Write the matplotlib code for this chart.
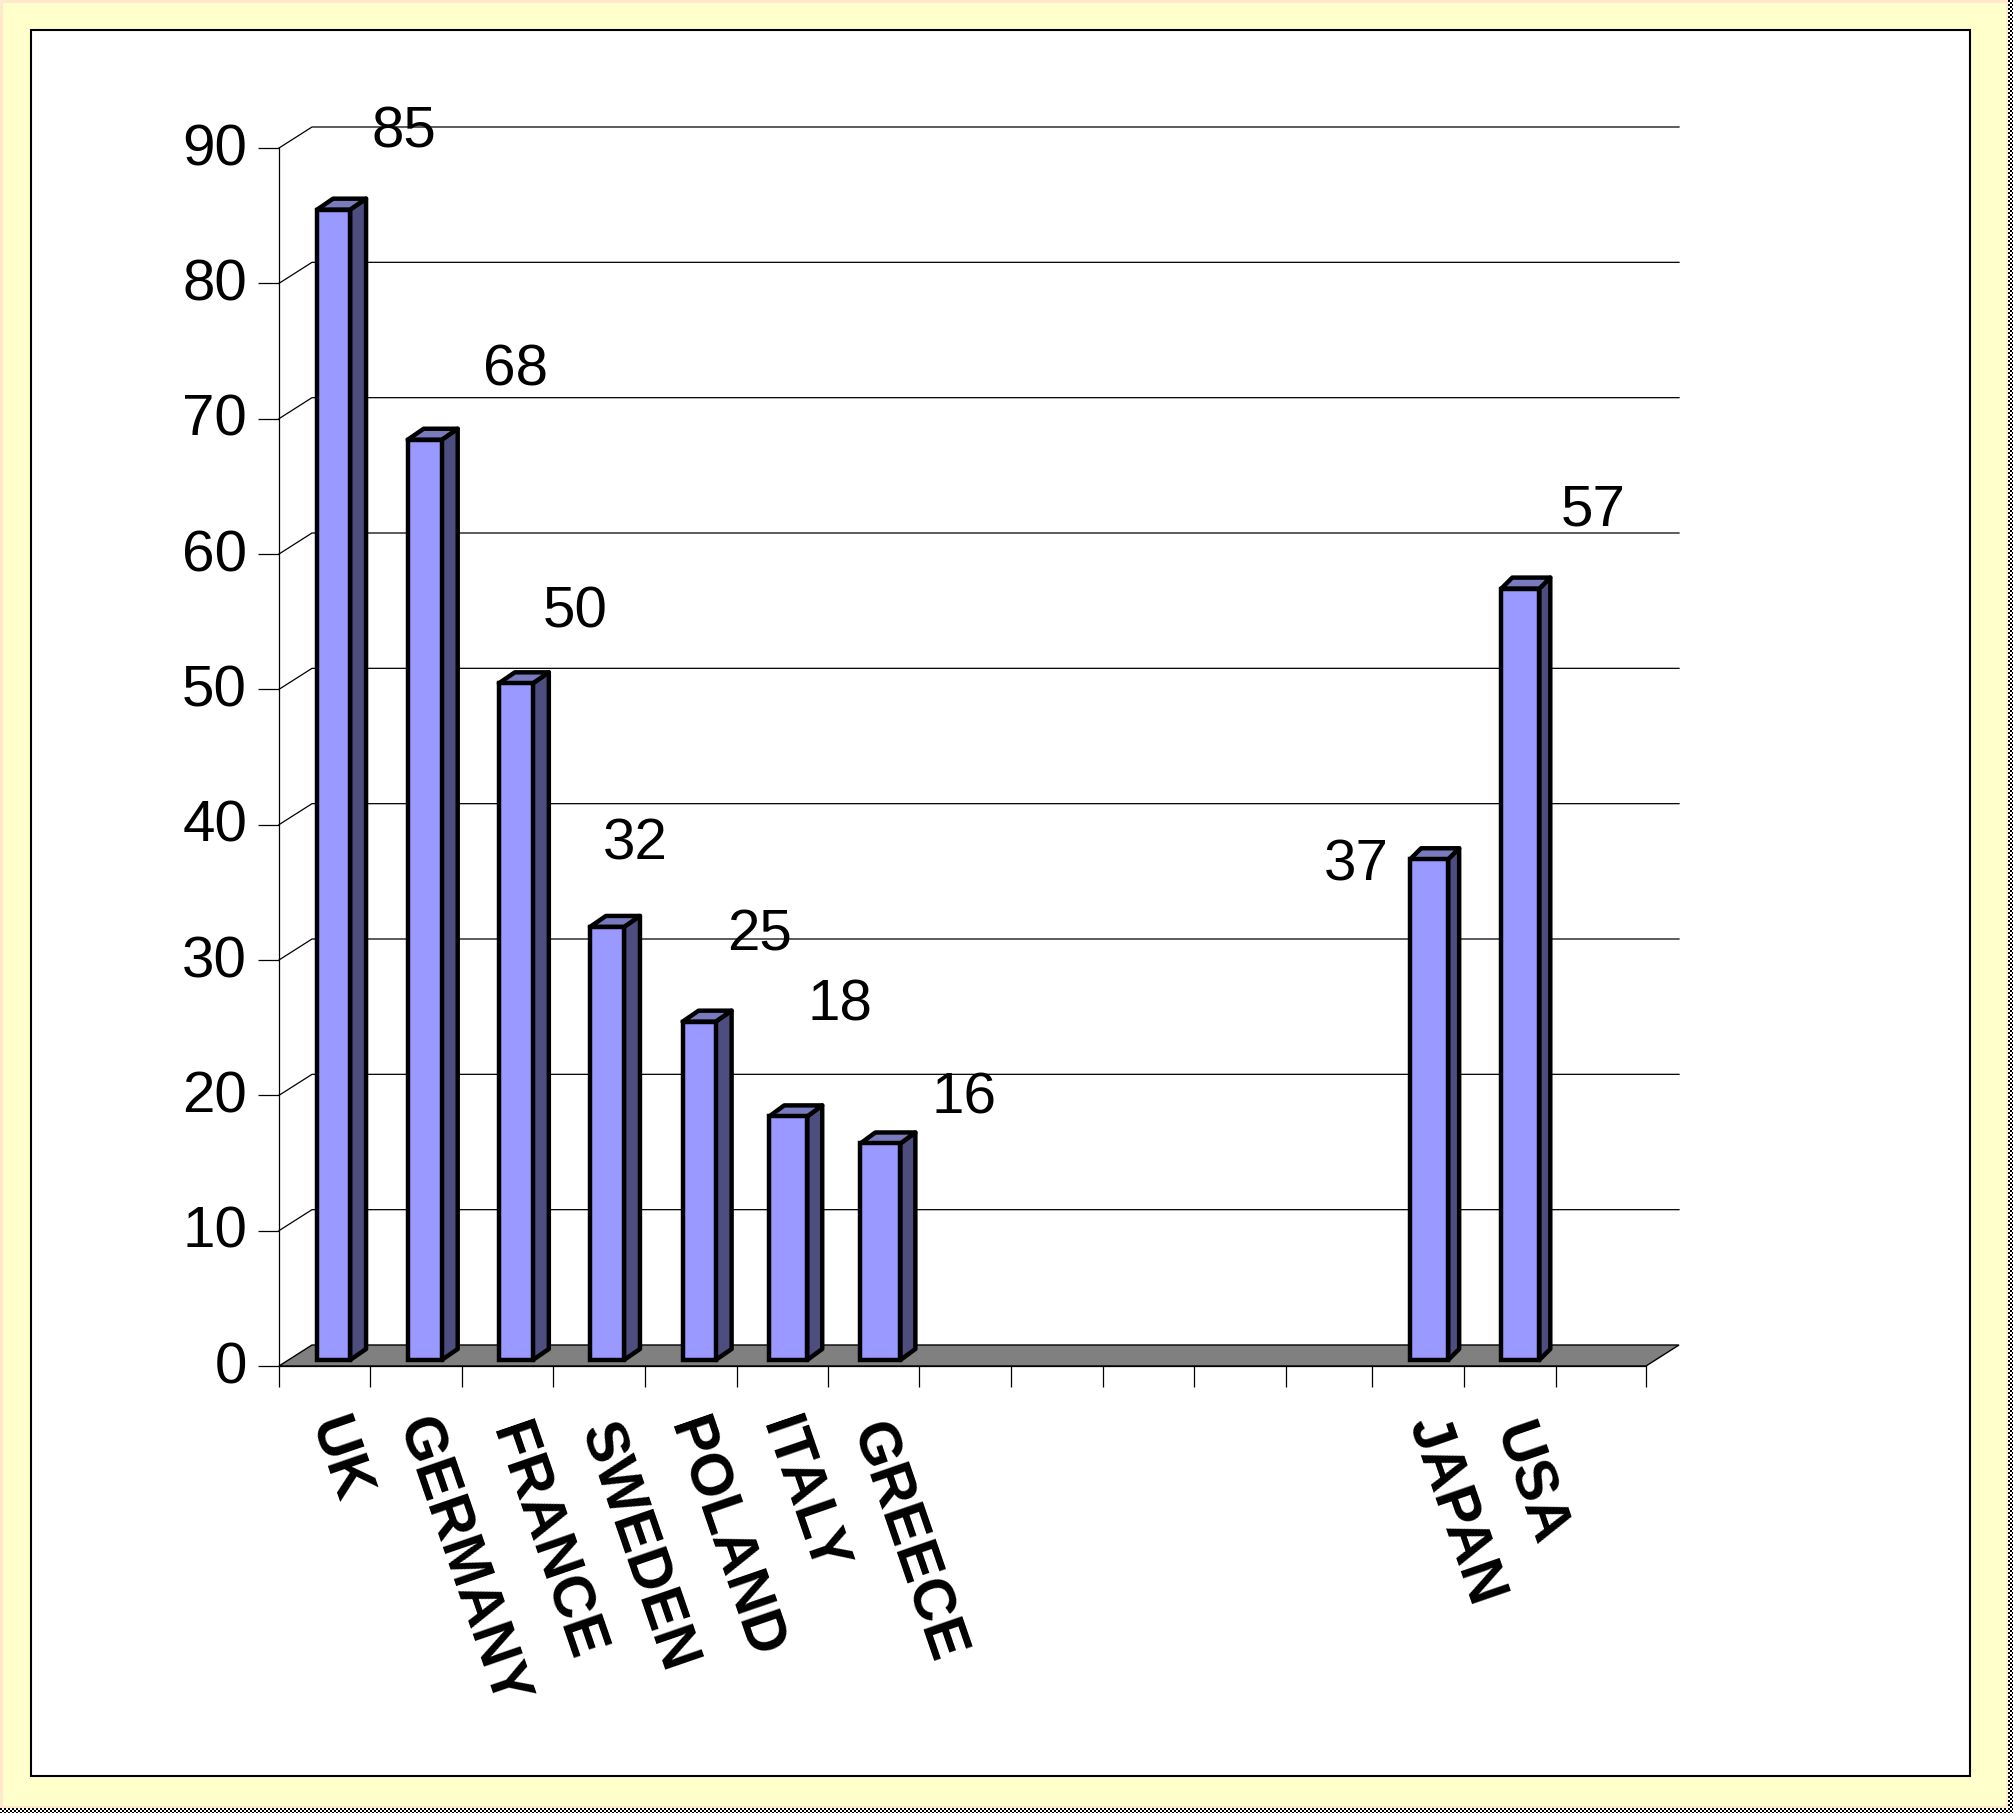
#!/usr/bin/env python3
"""Column chart with a fake 3D look, drawn on a framed slide background."""
import numpy as np
import matplotlib
matplotlib.use('Agg')
import matplotlib.pyplot as plt
from matplotlib.patches import Polygon, Rectangle
from matplotlib.transforms import ScaledTranslation

# data: 15 category slots, some of them empty
categories = ['UK', 'GERMANY', 'FRANCE', 'SWEDEN', 'POLAND', 'ITALY', 'GREECE',
              '', '', '', '', '', 'JAPAN', 'USA', '']
values = [85, 68, 50, 32, 25, 18, 16, None, None, None, None, None, 37, 57, None]
y_ticks = [0, 10, 20, 30, 40, 50, 60, 70, 80, 90]

# tweaks in pixels, the source chart is not quite regular
bar_widths = [33, 34, 34, 34, 33, 38, 40, 0, 0, 0, 0, 0, 38, 38, 0]
bar_shifts = [9, 9, 9, 9, 10, 8, 9, 0, 0, 0, 0, 0, 11, 11, 0]
bar_depths = [16, 16, 16, 16, 16, 15, 15, 0, 0, 0, 0, 0, 11, 11, 0]
label_offsets = [(70, -77), (91, -69), (59, -71), (28, -82), (60, -86), (52, -111),
                 (84, -45), None, None, None, None, None, (-73, 6), (73, -78), None]
name_nudges = [(-5, 0), (-9, 0), (-7, 6), (-9, 5), (-11, 1), (-10, 0), (-11, 5),
               None, None, None, None, None, (0, -2), (-6, 6), None]
x_tick_px = [279, 370, 462, 553, 645, 737, 828, 919, 1011, 1103, 1194, 1286, 1372, 1464, 1556, 1646]

W, H = 2013, 1813
LEFT, RIGHT, TOP, BOTTOM = 279, 1646, 148, 1366
FACE, SIDE, ROOF = '#9999FF', '#4D4D80', '#7A7ABF'
FONT = 'Liberation Sans'

plt.rcParams['font.family'] = [FONT, 'DejaVu Sans']
fig = plt.figure(figsize=(W / 100, H / 100), dpi=100)

# slide background: pale edge, dithered shadow on right and bottom
bg = np.ones((H, W, 3))
bg[:, :] = matplotlib.colors.to_rgb('#FFE8CC')
bg[3:1806, 3:2006] = matplotlib.colors.to_rgb('#FFFFCC')
yy, xx = np.indices((H, W))
shadow = (xx >= 2008) | (yy >= 1808)
bg[shadow] = (1.0, 1.0, 1.0)
bg[shadow & ((xx // 2 + yy // 2) % 2 == 0)] = (0.0, 0.0, 0.0)
fig.figimage(bg, resize=False, zorder=0)
fig.add_artist(Rectangle((31 / W, 1 - 1776 / H), 1939 / W, 1746 / H, transform=fig.transFigure,
                         fc='white', ec='black', lw=1.5, zorder=1))

ax = fig.add_axes([LEFT / W, 1 - BOTTOM / H, (RIGHT - LEFT) / W, (BOTTOM - TOP) / H], zorder=2)
ax.patch.set_visible(False)
n = len(categories)
ax.set_xlim(0, n)
ax.set_ylim(0, 90)
px_x = n / (RIGHT - LEFT)
px_y = 90 / (BOTTOM - TOP)

# back wall and floor
wall_dx, wall_dy = 33 * px_x, 21 * px_y
ax.add_patch(Polygon([(0, 0), (wall_dx, wall_dy), (n + wall_dx, wall_dy), (n, 0)],
                     fc='#808080', ec='black', lw=1.0, clip_on=False, zorder=1))
for t in y_ticks[1:]:
    ax.plot([0, wall_dx, n + wall_dx], [t, t + wall_dy, t + wall_dy], color='black', lw=0.9,
            clip_on=False, zorder=1.5)

# bars
base = 6 * px_y
for i, v in enumerate(values):
    if v is None:
        continue
    xc = i + 0.5 + bar_shifts[i] * px_x
    w = bar_widths[i] * px_x
    depth_x, depth_y = bar_depths[i] * px_x, 11 * px_y
    x0, x1 = xc - w / 2, xc + w / 2
    y0, y1 = base, base + v
    side = [(x1, y0), (x1 + depth_x, y0 + depth_y), (x1 + depth_x, y1 + depth_y), (x1, y1)]
    roof = [(x0, y1), (x0 + depth_x, y1 + depth_y), (x1 + depth_x, y1 + depth_y), (x1, y1)]
    ax.add_patch(Polygon(side, fc=SIDE, ec='black', lw=3.2, joinstyle='round', clip_on=False, zorder=3))
    ax.add_patch(Polygon(roof, fc=ROOF, ec='black', lw=3.2, joinstyle='round', clip_on=False, zorder=3))
    ax.bar(xc, v, width=w, bottom=y0, color=FACE, edgecolor='black', linewidth=3.2,
           clip_on=False, zorder=4)
    ax.annotate(str(v), (xc, y1), xytext=(label_offsets[i][0] * 0.72, -label_offsets[i][1] * 0.72),
                textcoords='offset points', ha='center', va='center', fontsize=42, zorder=6,
                annotation_clip=False)

# axes
for s in ('top', 'right'):
    ax.spines[s].set_visible(False)
for s in ('left', 'bottom'):
    ax.spines[s].set_linewidth(0.9)
    ax.spines[s].set_zorder(5)
ax.set_yticks(y_ticks)
ax.set_xticks([(p - LEFT) * px_x for p in x_tick_px])
ax.set_xticklabels([])
ax.tick_params(axis='y', length=15, width=0.9, labelsize=42, pad=8)
ax.tick_params(axis='x', length=15, width=0.9)
for lab in ax.get_yticklabels():
    lab.set_transform(lab.get_transform() + ScaledTranslation(0, 4 / 100, fig.dpi_scale_trans))

for i, name in enumerate(categories):
    if name:
        nx, ny = name_nudges[i]
        ax.annotate(name, (i + 0.5, 0), xytext=((5 + nx) * 0.72, (-54 - ny) * 0.72),
                    textcoords='offset points', rotation=-71, rotation_mode='anchor',
                    ha='left', va='center', fontsize=42.5, fontweight='bold',
                    annotation_clip=False)

fig.savefig('out.png', dpi=100)
